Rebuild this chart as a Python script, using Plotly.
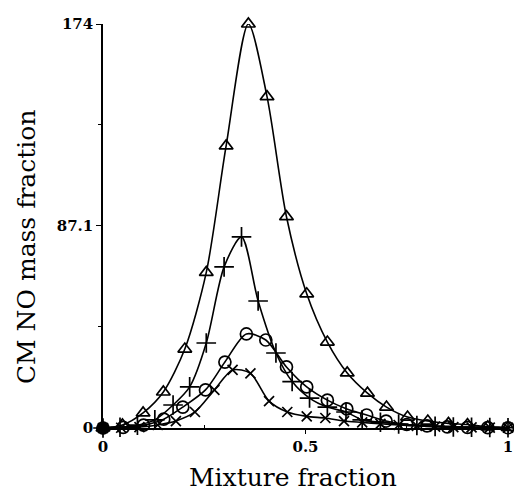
import plotly.graph_objects as go

# --- data ---
tri_x = [0, 0.048, 0.099, 0.149, 0.202, 0.255, 0.304, 0.359, 0.405, 0.453, 0.503,
         0.554, 0.603, 0.653, 0.700, 0.752, 0.802, 0.853, 0.900, 0.950, 1.0]
tri_y = [0, 1.3, 6.5, 15.5, 34, 67, 121.5, 174, 142.7, 91, 57.8,
         37, 23.7, 15, 9, 4.7, 3, 2, 1.5, 0.5, 0.3]

plus_x = [0, 0.042, 0.085, 0.128, 0.173, 0.214, 0.255, 0.299, 0.342, 0.383, 0.427,
          0.467, 0.510, 0.554, 0.600, 0.640, 0.685, 0.730, 0.775, 0.820, 0.865,
          0.910, 0.955, 1.0]
plus_y = [0, 0.3, 1.2, 3.5, 9.9, 17.7, 36.6, 69.4, 82.3, 54.7, 32.3,
          20, 12.9, 9, 6.9, 3.5, 2.5, 1.7, 1.1, 0.7, 0.4,
          0.3, 0.2, 0.1]

circ_x = [0, 0.05, 0.10, 0.15, 0.197, 0.253, 0.301, 0.354, 0.402, 0.453, 0.503,
          0.554, 0.602, 0.651, 0.699, 0.75, 0.80, 0.85, 0.90, 0.95, 1.0]
circ_y = [0, 0.3, 1.2, 3.8, 9.0, 16.4, 28.4, 40.5, 37.9, 26.3, 17.7,
          12, 8.2, 5.6, 3.0, 1.5, 0.9, 0.5, 0.3, 0.2, 0.1]

xm_x = [0, 0.045, 0.09, 0.135, 0.18, 0.227, 0.275, 0.32, 0.364, 0.41, 0.455,
        0.503, 0.549, 0.595, 0.64, 0.685, 0.73, 0.775, 0.82, 0.865, 0.91,
        0.955, 1.0]
xm_y = [0, 0.1, 0.4, 1.3, 3.0, 6.9, 16.4, 25, 23.5, 11.6, 6.9,
        5.0, 4.3, 3.0, 2.4, 1.8, 1.3, 0.9, 0.6, 0.4, 0.3,
        0.2, 0.1]

origin_x = [0]
origin_y = [0]

x_ticks = [0, 0.5, 1]
x_labels = ["0", "0.5", "1"]
y_ticks = [0, 87.1, 174]
y_labels = ["0", "87.1", "174"]

fig = go.Figure()

series = [
    (tri_x, tri_y, "triangle-up-open", 12),
    (plus_x, plus_y, "cross-thin-open", 14),
    (circ_x, circ_y, "circle-open", 12),
    (xm_x, xm_y, "x-thin-open", 10),
]
for xs, ys, sym, sz in series:
    fig.add_trace(go.Scatter(
        x=xs, y=ys, mode="lines+markers",
        line=dict(color="black", width=1.6, shape="spline", smoothing=0.8),
        marker=dict(symbol=sym, size=sz, color="black",
                    line=dict(color="black", width=1.7)),
        cliponaxis=False, showlegend=False,
    ))

# big filled dot at the origin
fig.add_trace(go.Scatter(
    x=origin_x, y=origin_y, mode="markers",
    marker=dict(symbol="circle", size=13, color="black"),
    cliponaxis=False, showlegend=False,
))

tick_font = dict(family="DejaVu Serif", size=15, color="black", weight="bold")
title_font = dict(family="DejaVu Serif", size=25, color="black")

# body has an 8px margin; keep the figure inside the window so no scrollbars appear
fig.update_layout(
    width=506, height=483,
    margin=dict(l=95, r=6, t=16, b=63, autoexpand=False),
    paper_bgcolor="white", plot_bgcolor="white",
    xaxis=dict(
        range=[0, 1], showgrid=False, zeroline=False,
        showline=True, linecolor="black", linewidth=1.5,
        tickvals=x_ticks, ticktext=x_labels, ticks="outside",
        ticklen=4, tickcolor="black", tickfont=tick_font,
        ticklabeloverflow="allow",
        minor=dict(tickvals=[0.25, 0.75], ticks="inside", ticklen=3,
                   tickcolor="black"),
    ),
    yaxis=dict(
        range=[0, 174], showgrid=False, zeroline=False,
        showline=True, linecolor="black", linewidth=1.5,
        tickvals=y_ticks, ticktext=y_labels, ticks="outside",
        ticklen=5, tickcolor="black", tickfont=tick_font,
        minor=dict(tickvals=[43.55, 130.65], ticks="outside", ticklen=3,
                   tickcolor="black"),
    ),
    annotations=[
        dict(text="Mixture fraction", xref="paper", yref="paper",
             x=0.47, y=-0.122, xanchor="center", yanchor="middle",
             showarrow=False, font=title_font),
        dict(text="CM NO mass fraction", xref="paper", yref="paper",
             x=-0.19, y=0.448, xanchor="center", yanchor="middle",
             textangle=-90, showarrow=False, font=title_font),
    ],
)

fig.write_html("out.html")
